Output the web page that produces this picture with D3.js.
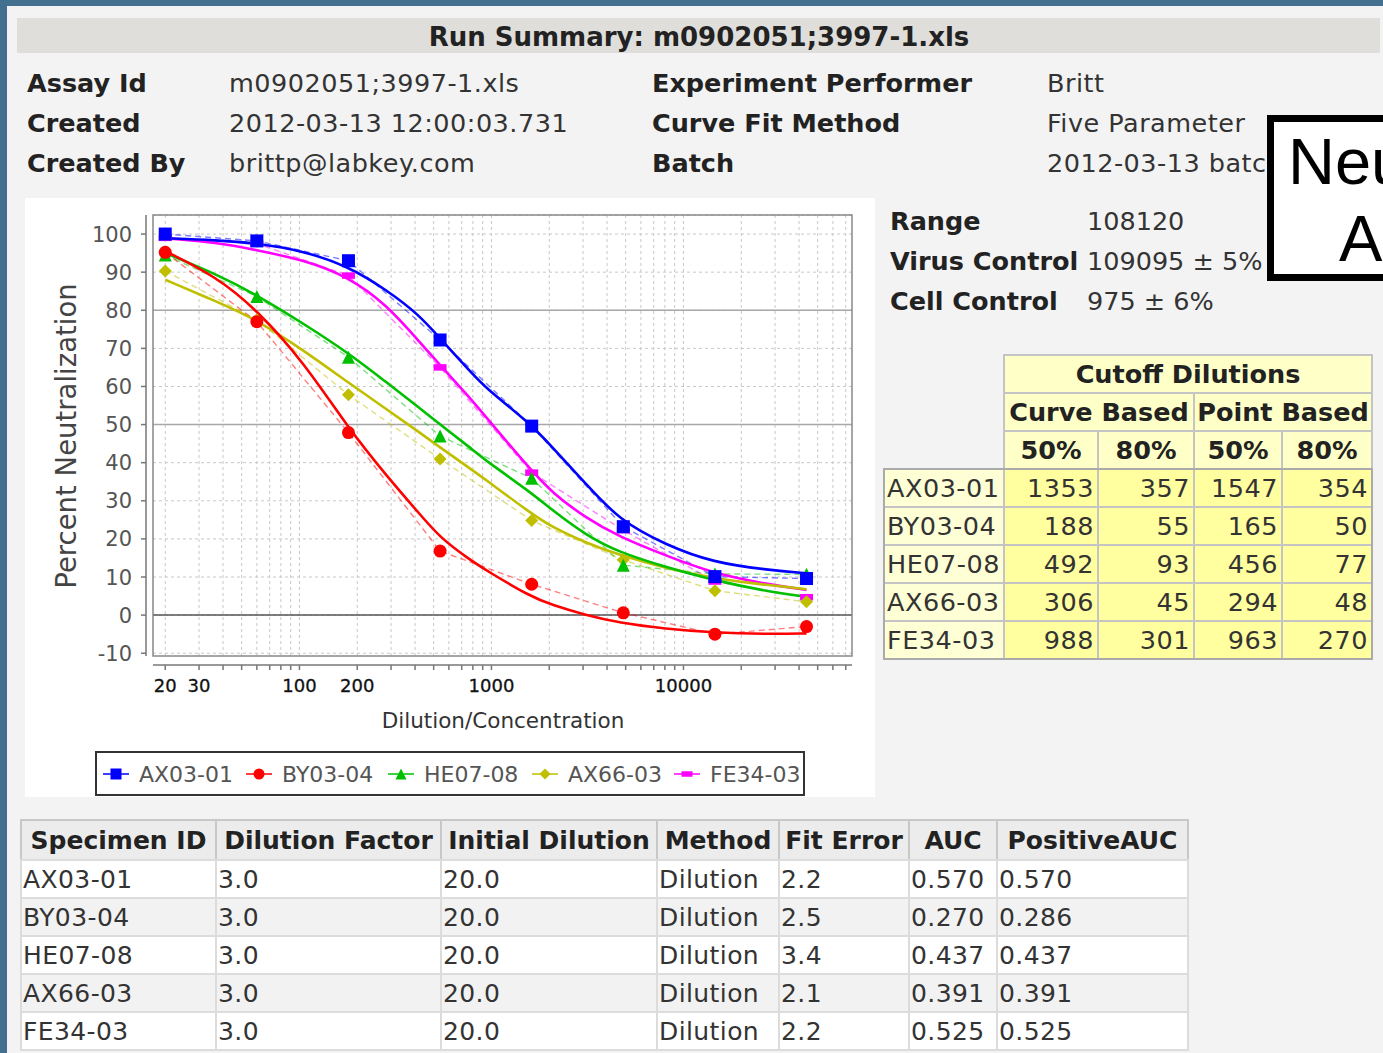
<!DOCTYPE html>
<meta charset="utf-8">
<script src="https://d3js.org/d3.v7.min.js"></script>
<style>
  body { margin: 0; background: #f3f3f3; overflow: hidden; }
  text { font-family: "DejaVu Sans", sans-serif; }
</style>
<svg id="page" width="1383" height="1053"></svg>
<script>

// ---- data ----
var specimens = ["AX03-01", "BY03-04", "HE07-08", "AX66-03", "FE34-03"];
var dilutions = [20, 60, 180, 540, 1620, 4860, 14580, 43740];

// measured percent neutralization at each dilution
var pointsAX0301 = [100.0, 98.2, 93.0, 72.2, 49.6, 23.2, 10.1, 9.6];
var pointsBY0304 = [95.2, 77.0, 47.9, 16.8, 8.1, 0.6, -5.0, -3.0];
var pointsHE0708 = [94.5, 83.6, 67.7, 47.0, 35.9, 13.1, 10.8, 10.7];
var pointsAX6603 = [90.3, 77.5, 57.8, 41.0, 24.8, 14.5, 6.4, 3.5];
var pointsFE3403 = [99.0, 97.5, 89.1, 65.0, 37.4, 22.3, 8.8, 4.7];

// fitted curves at these dilutions
var fitDilutions = [20, 37, 60, 105, 180, 285, 420, 540, 773, 936, 1575, 2080, 3100, 4600, 8100, 14200, 28000, 43740];
var fitAX0301 = [98.9, 98.4, 97.6, 95.6, 91.5, 85.3, 78.8, 72.6, 64.0, 59.5, 50.5, 44.0, 34.5, 25.0, 18.4, 13.8, 11.8, 11.0];
var fitBY0304 = [95.5, 88.8, 80.1, 66.5, 49.0, 36.5, 26.7, 20.3, 14.5, 11.8, 5.0, 2.6, 0.0, -2.0, -3.6, -4.6, -5.0, -4.8];
var fitHE0708 = [95.0, 89.5, 84.0, 76.5, 68.8, 61.0, 54.5, 50.0, 44.0, 40.5, 32.5, 27.5, 21.0, 16.5, 12.6, 9.2, 6.1, 4.8];
var fitAX6603 = [88.0, 82.3, 77.5, 69.5, 61.0, 54.0, 48.0, 44.0, 38.5, 35.5, 27.0, 23.0, 19.0, 15.8, 12.3, 9.7, 7.8, 6.8];
var fitFE3403 = [98.9, 97.8, 95.8, 93.2, 88.8, 81.4, 71.8, 65.6, 57.0, 52.0, 38.5, 32.0, 25.5, 20.6, 15.6, 11.0, 8.0, 6.6];

var yTicks = [-10, 0, 10, 20, 30, 40, 50, 60, 70, 80, 90, 100];
var xTickLabels = [20, 30, 100, 200, 1000, 10000];

// cutoff dilutions table
var curve50 = [1353, 188, 492, 306, 988];
var curve80 = [357, 55, 93, 45, 301];
var point50 = [1547, 165, 456, 294, 963];
var point80 = [354, 50, 77, 48, 270];

// run table
var runHeaders = ["Specimen ID", "Dilution Factor", "Initial Dilution", "Method", "Fit Error", "AUC", "PositiveAUC"];
var dilutionFactor = ["3.0", "3.0", "3.0", "3.0", "3.0"];
var initialDilution = ["20.0", "20.0", "20.0", "20.0", "20.0"];
var method = ["Dilution", "Dilution", "Dilution", "Dilution", "Dilution"];
var fitError = ["2.2", "2.5", "3.4", "2.1", "2.2"];
var auc = ["0.570", "0.270", "0.437", "0.391", "0.525"];
var positiveAuc = ["0.570", "0.286", "0.437", "0.391", "0.525"];

var summaryLeft = [["Assay Id", "m0902051;3997-1.xls"], ["Created", "2012-03-13 12:00:03.731"], ["Created By", "brittp@labkey.com"]];
var summaryRight = [["Experiment Performer", "Britt"], ["Curve Fit Method", "Five Parameter"], ["Batch", "2012-03-13 batch"]];
var controls = [["Range", "108120"], ["Virus Control", "109095 \u00b1 5%"], ["Cell Control", "975 \u00b1 6%"]];

// ---- styles ----
var colors = ["#0000ff", "#ff0000", "#00c000", "#bfbf00", "#ff00ff"];
var shapes = ["square", "circle", "triangle", "diamond", "rect"];

var svg = d3.select("#page");

// page background
svg.append("rect").attr("width", 1383).attr("height", 1053).attr("fill", "#44708f");
svg.append("rect").attr("x", 7).attr("y", 6).attr("width", 1376).attr("height", 1047).attr("fill", "#f3f3f3");

// title bar
svg.append("rect").attr("x", 17).attr("y", 18).attr("width", 1363).attr("height", 35).attr("fill", "#dfdedb");
svg.append("text").attr("x", 699).attr("y", 46).attr("text-anchor", "middle")
  .style("font-size", "26px").style("font-weight", "bold").attr("fill", "#222")
  .text("Run Summary: m0902051;3997-1.xls");

function boldText(xx, yy, t) {
  return svg.append("text").attr("x", xx).attr("y", yy).style("font-size", "25.5px")
    .style("font-weight", "bold").attr("fill", "#222").text(t);
}
function plainText(xx, yy, t, sp) {
  return svg.append("text").attr("x", xx).attr("y", yy).style("font-size", "25.5px")
    .style("letter-spacing", sp).attr("fill", "#333").text(t);
}

// summary rows
summaryLeft.forEach(function(r, i) {
  boldText(27, 92 + i * 40, r[0]);
  plainText(229, 92 + i * 40, r[1], "0.5px");
});
summaryRight.forEach(function(r, i) {
  boldText(652, 92 + i * 40, r[0]);
  plainText(1047, 92 + i * 40, r[1], "0.5px");
});

// ---- chart ----
var chart = svg.append("g");
chart.append("rect").attr("x", 25).attr("y", 198).attr("width", 850).attr("height", 599).attr("fill", "#fff");

var plotL = 153, plotR = 852, plotT = 215, plotB = 656;
var x = d3.scaleLog().domain([17.27, 75460]).range([plotL, plotR]);
var y = d3.scaleLinear().domain([-10.73, 105.0]).range([plotB, plotT]);

// minor log ticks
var minorTicks = [];
[10, 100, 1000, 10000].forEach(function(dec) {
  for (var k = 1; k < 10; k++) {
    var v = dec * k;
    if (v >= x.domain()[0] && v <= x.domain()[1]) minorTicks.push(v);
  }
});

// grid
chart.append("g").selectAll("line").data(minorTicks).enter().append("line")
  .attr("x1", function(d) { return x(d); }).attr("x2", function(d) { return x(d); })
  .attr("y1", plotT).attr("y2", plotB)
  .attr("stroke", "#c8c8c8").attr("stroke-width", 1).attr("stroke-dasharray", "3,3");
chart.append("g").selectAll("line").data(yTicks.concat([105])).enter().append("line")
  .attr("x1", plotL).attr("x2", plotR)
  .attr("y1", function(d) { return y(d); }).attr("y2", function(d) { return y(d); })
  .attr("stroke", "#c8c8c8").attr("stroke-width", 1).attr("stroke-dasharray", "3,3");
chart.append("g").selectAll("line").data([50, 80]).enter().append("line")
  .attr("x1", plotL).attr("x2", plotR)
  .attr("y1", function(d) { return y(d); }).attr("y2", function(d) { return y(d); })
  .attr("stroke", "#a8a8a8").attr("stroke-width", 1.5);
chart.append("line").attr("x1", plotL).attr("x2", plotR).attr("y1", y(0)).attr("y2", y(0))
  .attr("stroke", "#555").attr("stroke-width", 1.5);
chart.append("rect").attr("x", plotL).attr("y", plotT).attr("width", plotR - plotL).attr("height", plotB - plotT)
  .attr("fill", "none").attr("stroke", "#888").attr("stroke-width", 1.5);

// y axis
chart.append("line").attr("x1", 146).attr("x2", 146).attr("y1", plotT).attr("y2", plotB)
  .attr("stroke", "#777").attr("stroke-width", 1.5);
chart.append("g").selectAll("line").data(yTicks).enter().append("line")
  .attr("x1", 141).attr("x2", 146)
  .attr("y1", function(d) { return y(d); }).attr("y2", function(d) { return y(d); })
  .attr("stroke", "#777").attr("stroke-width", 1.5);
chart.append("g").selectAll("text").data(yTicks).enter().append("text")
  .attr("x", 132).attr("y", function(d) { return y(d); }).attr("dy", "0.36em")
  .attr("text-anchor", "end").style("font-size", "21px").attr("fill", "#555")
  .text(function(d) { return d; });

// x axis
chart.append("line").attr("x1", plotL).attr("x2", plotR).attr("y1", 665).attr("y2", 665)
  .attr("stroke", "#777").attr("stroke-width", 1.5);
chart.append("g").selectAll("line").data(minorTicks).enter().append("line")
  .attr("x1", function(d) { return x(d); }).attr("x2", function(d) { return x(d); })
  .attr("y1", 665).attr("y2", 670)
  .attr("stroke", "#777").attr("stroke-width", 1.5);
chart.append("g").selectAll("text").data(xTickLabels).enter().append("text")
  .attr("x", function(d) { return x(d); }).attr("y", 692)
  .attr("text-anchor", "middle").style("font-size", "18px").attr("fill", "#111")
  .style("stroke", "#111").style("stroke-width", "0.3px")
  .text(function(d) { return d; });

chart.append("text").attr("x", 503).attr("y", 728).attr("text-anchor", "middle")
  .style("font-size", "21.5px").attr("fill", "#333").text("Dilution/Concentration");
chart.append("text").attr("transform", "translate(76,436) rotate(-90)").attr("text-anchor", "middle")
  .style("font-size", "27.5px").attr("fill", "#444").text("Percent Neutralization");

// markers
function marker(g, shape, color, s) {
  if (shape === "square") {
    g.append("rect").attr("x", -s / 2).attr("y", -s / 2).attr("width", s).attr("height", s).attr("fill", color);
  } else if (shape === "circle") {
    g.append("circle").attr("r", s / 2).attr("fill", color);
  } else if (shape === "triangle") {
    g.append("path").attr("d", "M0," + (-s / 2) + "L" + (s / 2) + "," + (s / 2) + "L" + (-s / 2) + "," + (s / 2) + "Z").attr("fill", color);
  } else if (shape === "diamond") {
    g.append("path").attr("d", "M0," + (-s / 2) + "L" + (s / 2) + ",0L0," + (s / 2) + "L" + (-s / 2) + ",0Z").attr("fill", color);
  } else {
    g.append("rect").attr("x", -s / 2).attr("y", -s / 4).attr("width", s).attr("height", s / 2).attr("fill", color);
  }
}

chart.append("clipPath").attr("id", "plotclip").append("rect")
  .attr("x", plotL).attr("y", plotT).attr("width", plotR - plotL).attr("height", plotB - plotT);
var plot = chart.append("g").attr("clip-path", "url(#plotclip)");

var pointSets = [pointsAX0301, pointsBY0304, pointsHE0708, pointsAX6603, pointsFE3403];
var fitSets = [fitAX0301, fitBY0304, fitHE0708, fitAX6603, fitFE3403];
var drawOrder = [4, 3, 2, 1, 0];   // first series ends up on top

var lineGen = d3.line()
  .x(function(d) { return x(d[0]); })
  .y(function(d) { return y(d[1]); });
var curveGen = d3.line()
  .x(function(d) { return x(d[0]); })
  .y(function(d) { return y(d[1]); })
  .curve(d3.curveBasis);

// dashed point-to-point lines
drawOrder.forEach(function(i) {
  plot.append("path").datum(d3.zip(dilutions, pointSets[i])).attr("d", lineGen)
    .attr("fill", "none").attr("stroke", colors[i]).attr("stroke-width", 1.4)
    .attr("stroke-dasharray", "6,4").attr("opacity", 0.5);
});
// fitted curves
drawOrder.forEach(function(i) {
  plot.append("path").datum(d3.zip(fitDilutions, fitSets[i])).attr("d", curveGen)
    .attr("fill", "none").attr("stroke", colors[i]).attr("stroke-width", 2.6);
});
// points
drawOrder.forEach(function(i) {
  d3.zip(dilutions, pointSets[i]).forEach(function(p) {
    var g = plot.append("g").attr("transform", "translate(" + x(p[0]) + "," + y(p[1]) + ")");
    marker(g, shapes[i], colors[i], 13);
  });
});

// legend
var legend = chart.append("g");
legend.append("rect").attr("x", 96).attr("y", 752).attr("width", 708).attr("height", 43)
  .attr("fill", "#fff").attr("stroke", "#333").attr("stroke-width", 2);
var legendX = [116, 259, 401, 545, 687];
specimens.forEach(function(name, i) {
  var cx = legendX[i], cy = 774;
  legend.append("line").attr("x1", cx - 13).attr("x2", cx + 13).attr("y1", cy).attr("y2", cy)
    .attr("stroke", colors[i]).attr("stroke-width", 1.5);
  var g = legend.append("g").attr("transform", "translate(" + cx + "," + cy + ")");
  marker(g, shapes[i], colors[i], 11);
  legend.append("text").attr("x", cx + 23).attr("y", cy).attr("dy", "0.36em")
    .style("font-size", "22px").attr("fill", "#555").text(name);
});

// ---- controls ----
controls.forEach(function(r, i) {
  boldText(890, 230 + i * 40, r[0]);
  plainText(1087, 230 + i * 40, r[1], "0px");
});

// ---- cutoff table ----
var ct = svg.append("g");
var colX = [884, 1004, 1098, 1194, 1282, 1372];
var hdrFill = "#ffffc8", dataFill = "#ffffa0", labelFill = "#ffffd6", gridStroke = "#c4c4c4";
function cell(g, x0, y0, w, h, fill) {
  g.append("rect").attr("x", x0).attr("y", y0).attr("width", w).attr("height", h)
    .attr("fill", fill).attr("stroke", gridStroke).attr("stroke-width", 2);
}
function hdrText(g, xx, yy, t) {
  g.append("text").attr("x", xx).attr("y", yy).attr("dy", "0.36em").attr("text-anchor", "middle")
    .style("font-size", "25.5px").style("font-weight", "bold").attr("fill", "#222").text(t);
}
cell(ct, 1004, 355, 368, 38, hdrFill);
hdrText(ct, 1188, 374, "Cutoff Dilutions");
cell(ct, 1004, 393, 190, 38, hdrFill);
cell(ct, 1194, 393, 178, 38, hdrFill);
hdrText(ct, 1099, 412, "Curve Based");
hdrText(ct, 1283, 412, "Point Based");
["50%", "80%", "50%", "80%"].forEach(function(t, j) {
  cell(ct, colX[j + 1], 431, colX[j + 2] - colX[j + 1], 38, hdrFill);
  hdrText(ct, (colX[j + 1] + colX[j + 2]) / 2, 450, t);
});
var cutCols = [curve50, curve80, point50, point80];
specimens.forEach(function(name, i) {
  var ry = 469 + i * 38;
  cell(ct, colX[0], ry, colX[1] - colX[0], 38, labelFill);
  ct.append("text").attr("x", colX[0] + 3).attr("y", ry + 19).attr("dy", "0.36em")
    .style("font-size", "25.5px").style("letter-spacing", "0.5px").attr("fill", "#333").text(name);
  cutCols.forEach(function(col, j) {
    cell(ct, colX[j + 1], ry, colX[j + 2] - colX[j + 1], 38, dataFill);
    ct.append("text").attr("x", colX[j + 2] - 4).attr("y", ry + 19).attr("dy", "0.36em")
      .attr("text-anchor", "end").style("font-size", "25.5px").style("letter-spacing", "0.5px")
      .attr("fill", "#333").text(col[i]);
  });
});
ct.append("rect").attr("x", 884).attr("y", 469).attr("width", 488).attr("height", 190)
  .attr("fill", "none").attr("stroke", "#aaa").attr("stroke-width", 2);

// ---- run table ----
var rt = svg.append("g");
var rCol = [21, 216, 441, 657, 779, 909, 997, 1188];
var runCols = [specimens, dilutionFactor, initialDilution, method, fitError, auc, positiveAuc];
rt.append("rect").attr("x", 21).attr("y", 820).attr("width", 1167).attr("height", 40)
  .attr("fill", "#ececec").attr("stroke", "#c8c8c8").attr("stroke-width", 2);
runHeaders.forEach(function(h, j) {
  if (j > 0) rt.append("line").attr("x1", rCol[j]).attr("x2", rCol[j]).attr("y1", 820).attr("y2", 860)
    .attr("stroke", "#c8c8c8").attr("stroke-width", 2);
  rt.append("text").attr("x", (rCol[j] + rCol[j + 1]) / 2).attr("y", 840).attr("dy", "0.36em")
    .attr("text-anchor", "middle").style("font-size", "25px").style("font-weight", "bold")
    .attr("fill", "#222").text(h);
});
specimens.forEach(function(name, i) {
  var ry = 860 + i * 38;
  rt.append("rect").attr("x", 21).attr("y", ry).attr("width", 1167).attr("height", 38)
    .attr("fill", i % 2 === 0 ? "#ffffff" : "#f2f2f2").attr("stroke", "#dcdcdc").attr("stroke-width", 2);
  runCols.forEach(function(col, j) {
    if (j > 0) rt.append("line").attr("x1", rCol[j]).attr("x2", rCol[j]).attr("y1", ry).attr("y2", ry + 38)
      .attr("stroke", "#dcdcdc").attr("stroke-width", 2);
    rt.append("text").attr("x", rCol[j] + 2).attr("y", ry + 19).attr("dy", "0.36em")
      .style("font-size", "25px").style("letter-spacing", "0.4px").attr("fill", "#333").text(col[i]);
  });
});

// ---- overlay box at the right edge ----
svg.append("rect").attr("x", 1270.5).attr("y", 118.5).attr("width", 140).attr("height", 159)
  .attr("fill", "#fff").attr("stroke", "#000").attr("stroke-width", 7);
svg.append("text").attr("x", 1288).attr("y", 184).style("font-family", "Liberation Sans, Arial, sans-serif")
  .style("font-size", "65px").attr("fill", "#000").text("Neu");
svg.append("text").attr("x", 1339).attr("y", 261).style("font-family", "Liberation Sans, Arial, sans-serif")
  .style("font-size", "65px").attr("fill", "#000").text("A");

</script>
